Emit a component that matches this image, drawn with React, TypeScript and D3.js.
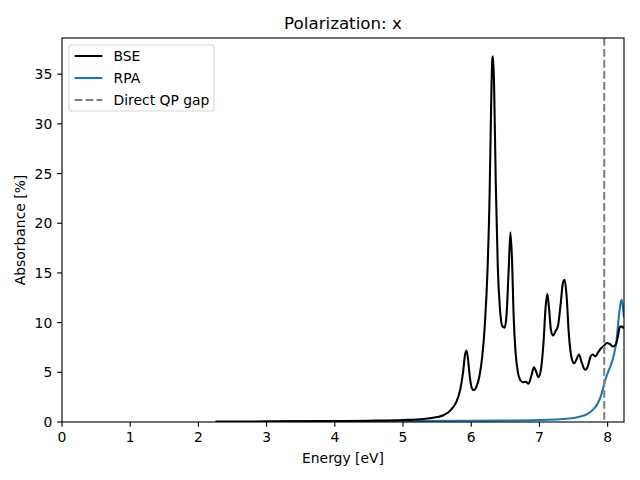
import React from "react";
import * as d3 from "d3";

const bseEnergy = [2.25,3.0,4.0,4.5,5.0,5.3,5.5,5.6,5.7,5.78,5.84,5.88,5.91,5.93,5.95,5.98,6.01,6.04,6.08,6.12,6.16,6.2,6.24,6.27,6.29,6.31,6.32,6.335,6.36,6.39,6.42,6.46,6.49,6.52,6.55,6.575,6.6,6.62,6.65,6.68,6.72,6.76,6.8,6.84,6.88,6.92,6.95,6.985,7.02,7.06,7.09,7.115,7.14,7.17,7.2,7.24,7.27,7.31,7.345,7.37,7.4,7.43,7.47,7.51,7.55,7.58,7.62,7.67,7.71,7.75,7.78,7.82,7.86,7.9,7.95,7.99,8.03,8.08,8.12,8.15,8.18,8.21,8.24];
const bseValues = [0.05,0.06,0.1,0.13,0.2,0.3,0.5,0.7,1.2,2.0,3.3,5.0,6.8,7.2,6.5,4.5,3.4,3.2,3.6,4.6,6.5,9.8,15.5,23,31,36.6,36.8,34,24,15.5,11.5,9.6,9.5,11,15.5,19.1,16,11,7,5.2,4.2,4.0,4.05,3.85,4.6,5.5,5.1,4.5,5.2,8,11.5,12.9,11.5,9.2,8.7,9.2,9.6,11.8,14,14.3,12.5,9,6.5,5.9,6.4,6.8,6.0,5.25,5.6,6.6,6.8,6.6,7.0,7.4,7.7,7.95,7.85,7.6,7.8,8.6,9.6,9.6,9.4];

const rpaEnergy = [3.2,4,5,6,6.5,7,7.3,7.5,7.6,7.7,7.78,7.84,7.89,7.93,7.96,8.0,8.04,8.07,8.1,8.13,8.16,8.19,8.205,8.22,8.24];
const rpaValues = [0.05,0.07,0.1,0.12,0.15,0.2,0.28,0.4,0.55,0.8,1.2,1.7,2.4,3.3,4.1,4.9,5.6,6.2,7.0,8.2,10.3,12.0,12.3,11.8,10.5];

const qpGap = 7.95;
const xTicks = [0,1,2,3,4,5,6,7,8];
const yTicks = [0,5,10,15,20,25,30,35];
const legendLabels = ["BSE", "RPA", "Direct QP gap"];

const W = 640, H = 480;
const M = { left: 62, right: 624, top: 38, bottom: 422 };
const FONT = "DejaVu Sans, sans-serif";
const FS = 13.9;

export default function App() {
  const x = d3.scaleLinear().domain([0, 8.24]).range([M.left, M.right]);
  const y = d3.scaleLinear().domain([0, 38.64]).range([M.bottom, M.top]);
  const line = d3.line<[number, number]>()
    .x(d => x(d[0])).y(d => y(d[1]))
    .curve(d3.curveMonotoneX);
  const bse: [number, number][] = bseEnergy.map((e, i) => [e, bseValues[i]]);
  const rpa: [number, number][] = rpaEnergy.map((e, i) => [e, rpaValues[i]]);
  const lw = 2.08;
  const legendColors = ["#000000", "#1f77b4", "#808080"];
  const lx = 69, ly = 45;
  return (
    <svg width={W} height={H} style={{ display: "block", position: "absolute", left: 0, top: 0 }} fontFamily={FONT}>
      <rect x={0} y={0} width={W} height={H} fill="#fff" />
      <defs>
        <clipPath id="clip">
          <rect x={M.left} y={M.top} width={M.right - M.left} height={M.bottom - M.top} />
        </clipPath>
      </defs>
      <g clipPath="url(#clip)">
        <path d={line(rpa) || ""} fill="none" stroke="#1f77b4" strokeWidth={lw} strokeLinejoin="round" />
        <path d={line(bse) || ""} fill="none" stroke="#000" strokeWidth={lw} strokeLinejoin="round" />
        <line x1={x(qpGap)} x2={x(qpGap)} y1={M.top} y2={M.bottom} stroke="#808080" strokeWidth={lw} strokeDasharray="7.7,3.3" />
      </g>
      <rect x={M.left} y={M.top} width={M.right - M.left} height={M.bottom - M.top} fill="none" stroke="#000" strokeWidth={1.11} />
      {xTicks.map(t => (
        <g key={"x" + t}>
          <line x1={x(t)} x2={x(t)} y1={M.bottom} y2={M.bottom + 4.86} stroke="#000" strokeWidth={1.11} />
          <text x={x(t)} y={M.bottom + 9.7} dy="0.76em" textAnchor="middle" fontSize={FS}>{t}</text>
        </g>
      ))}
      {yTicks.map(t => (
        <g key={"y" + t}>
          <line x1={M.left - 4.86} x2={M.left} y1={y(t)} y2={y(t)} stroke="#000" strokeWidth={1.11} />
          <text x={M.left - 9.7} y={y(t)} dy="0.36em" textAnchor="end" fontSize={FS}>{t}</text>
        </g>
      ))}
      <text x={(M.left + M.right) / 2} y={29} textAnchor="middle" fontSize={16.7}>Polarization: x</text>
      <text x={(M.left + M.right) / 2} y={463} textAnchor="middle" fontSize={FS}>Energy [eV]</text>
      <text transform={`translate(25,${(M.top + M.bottom) / 2}) rotate(-90)`} textAnchor="middle" fontSize={FS}>Absorbance [%]</text>
      <rect x={lx} y={ly} width={145} height={66} rx={2.8} fill="#fff" fillOpacity={0.8} stroke="#cccccc" strokeOpacity={0.8} strokeWidth={1.11} />
      {legendLabels.map((lab, i) => {
        const cy = 56 + i * 22;
        return (
          <g key={lab}>
            <line x1={74.6} x2={102.4} y1={cy} y2={cy} stroke={legendColors[i]} strokeWidth={lw} strokeDasharray={i === 2 ? "7.7,3.3" : undefined} />
            <text x={113.5} y={cy} dy="0.36em" fontSize={FS}>{lab}</text>
          </g>
        );
      })}
    </svg>
  );
}
